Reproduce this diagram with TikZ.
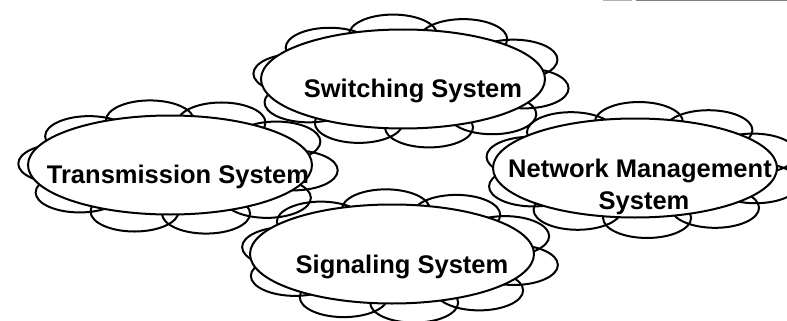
\documentclass[tikz,border=0pt]{standalone}
\usepackage{fontspec}
\setmainfont{Liberation Sans}
\usetikzlibrary{shapes.geometric}

% ring of ten lobes around an elliptical core: cx, cy, a, b, phase
\newcommand\cloudlobes[5]{%
  \foreach \k in {0,...,9}{%
    \pgfmathsetmacro\t{#5+\k*36}%
    \draw[lobe] ({#1+8+(#3-26)*cos(\t)},{#2+2-(#4-2)*sin(\t)})
      ellipse [x radius=44pt, y radius=20pt];
  }}

\begin{document}
\begin{tikzpicture}[x=1pt,y=-1pt,
  lobe/.style={draw=black, line width=2pt},
  core/.style={draw=black, line width=2pt, fill=white, ellipse,
               inner sep=0pt, minimum width=284pt, minimum height=99pt},
  lbl/.style={font=\fontsize{25.5}{32}\selectfont\bfseries,
              inner sep=0pt, anchor=base}]
\useasboundingbox (0,0) rectangle (787,321);
\clip (0,0) rectangle (787,321);

% rule along the top edge
\draw[gray!60, line width=1.2pt] (603,0.6) -- (632,0.6);
\draw[gray, line width=1.5pt] (636,0.6) -- (787,0.6);

% lobes of the four clouds
\cloudlobes{403}{79}{141}{49}{99}
\cloudlobes{170}{165}{142}{50}{104}
\cloudlobes{635}{168}{143}{50}{92}
\cloudlobes{392}{254}{142}{49}{97}

% cores
\node[core] (sw) at (403,79) {};
\node[core] (tr) at (170,165) {};
\node[core] (nm) at (635,168) {};
\node[core] (sg) at (392,254) {};

% labels
\node[lbl] (swt) at (413,97) {Switching System};
\node[lbl] (trt) at (178,183) {Transmission System};
\node[lbl] (nmt1) at (640,177) {Network Management};
\node[lbl] (nmt2) at (644,209) {System};
\node[lbl] (sgt) at (402,273) {Signaling System};
\end{tikzpicture}
\end{document}
